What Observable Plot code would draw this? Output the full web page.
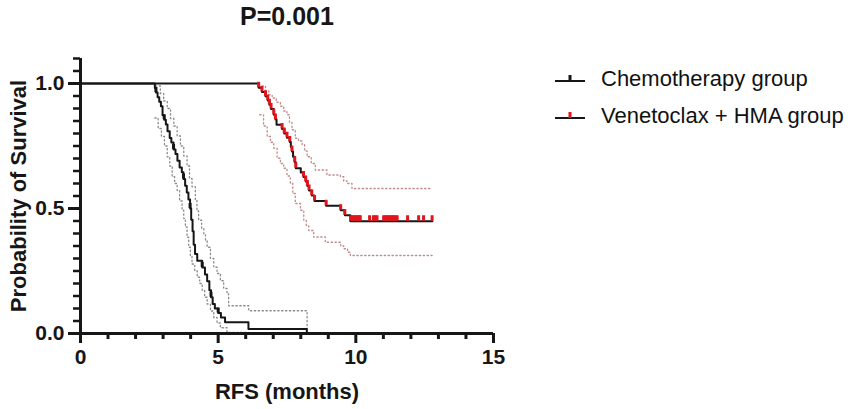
<!DOCTYPE html>
<html>
<head>
<meta charset="utf-8">
<script src="https://cdn.jsdelivr.net/npm/d3@7"></script>
<script src="https://cdn.jsdelivr.net/npm/@observablehq/plot@0.6"></script>
<style>
  body { margin: 0; background: white; }
  #chart { position: relative; width: 851px; height: 409px; font-family: "Liberation Sans", Arial, sans-serif; }
  #legend { position: absolute; left: 555px; top: 60px; font-size: 22px; color: #111; }
  #legend .row { display: flex; align-items: center; height: 37px; white-space: nowrap; }
  #legend svg { margin-right: 16px; }
</style>
</head>
<body>
<div id="chart"><div id="legend"></div></div>
<script>
const titleText = "P=0.001";
const xLabel = "RFS (months)";
const yLabel = "Probability of Survival";
const groups = ["Chemotherapy group", "Venetoclax + HMA group"];

const xMajorTicks = [0, 5, 10, 15];
const xMinorTicks = [1, 2, 3, 4, 6, 7, 8, 9, 11, 12, 13, 14];
const yMajorTicks = [0, 0.5, 1.0];
const yMinorTicks = [0.05, 0.1, 0.15, 0.2, 0.25, 0.3, 0.35, 0.4, 0.45, 0.55, 0.6, 0.65, 0.7, 0.75, 0.8, 0.85, 0.9, 0.95, 1.05, 1.1];

// Kaplan-Meier steps, chemotherapy group
const chemoT = [0, 2.70, 2.74, 2.80, 2.86, 2.92, 2.98, 3.04, 3.10, 3.16, 3.24, 3.30, 3.38, 3.45, 3.52, 3.60, 3.68, 3.74, 3.80, 3.86, 3.92, 3.98, 4.02, 4.07, 4.11, 4.16, 4.24, 4.42, 4.52, 4.60, 4.68, 4.74, 4.80, 4.88, 5.00, 5.10, 5.25, 6.10, 8.22];
const chemoS = [1, 0.982, 0.964, 0.945, 0.927, 0.909, 0.873, 0.855, 0.836, 0.809, 0.782, 0.764, 0.736, 0.718, 0.691, 0.664, 0.645, 0.618, 0.591, 0.564, 0.536, 0.500, 0.455, 0.409, 0.355, 0.318, 0.291, 0.264, 0.236, 0.209, 0.173, 0.145, 0.118, 0.100, 0.082, 0.064, 0.045, 0.018, 0];
const chemoUpT = [2.72, 2.90, 3.02, 3.15, 3.27, 3.39, 3.51, 3.63, 3.75, 3.87, 3.96, 4.05, 4.17, 4.23, 4.29, 4.40, 4.48, 4.54, 4.60, 4.72, 4.84, 4.96, 5.08, 5.20, 5.32, 5.38, 6.11, 8.23];
const chemoUpS = [0.99, 0.96, 0.93, 0.90, 0.86, 0.83, 0.79, 0.75, 0.71, 0.67, 0.62, 0.587, 0.533, 0.49, 0.453, 0.42, 0.399, 0.37, 0.345, 0.30, 0.265, 0.24, 0.211, 0.18, 0.158, 0.111, 0.091, 0.02];
const chemoLoT = [2.70, 2.82, 2.94, 3.05, 3.15, 3.24, 3.33, 3.42, 3.51, 3.60, 3.69, 3.75, 3.81, 3.87, 3.93, 3.99, 4.05, 4.15, 4.24, 4.33, 4.42, 4.51, 4.60, 4.72, 4.84, 4.96, 5.08, 5.32, 6.11];
const chemoLoS = [0.862, 0.82, 0.788, 0.75, 0.707, 0.67, 0.627, 0.60, 0.573, 0.53, 0.493, 0.46, 0.426, 0.385, 0.345, 0.31, 0.278, 0.25, 0.225, 0.20, 0.171, 0.145, 0.118, 0.09, 0.064, 0.042, 0.023, 0.004, 0.004];
const chemoCensT = [2.74, 3.04, 3.38, 3.74, 3.98, 4.42, 4.74, 5.00];
const chemoCensS = [0.964, 0.855, 0.736, 0.618, 0.500, 0.264, 0.145, 0.082];

// Kaplan-Meier steps, venetoclax + HMA group
const venT = [0, 6.47, 6.59, 6.72, 6.80, 6.86, 6.92, 7.02, 7.08, 7.12, 7.32, 7.40, 7.50, 7.60, 7.64, 7.68, 7.72, 7.78, 7.82, 8.00, 8.10, 8.18, 8.24, 8.30, 8.40, 8.50, 8.92, 9.45, 9.60, 9.80, 12.78];
const venS = [1, 0.983, 0.966, 0.949, 0.932, 0.915, 0.898, 0.875, 0.856, 0.835, 0.818, 0.800, 0.783, 0.766, 0.746, 0.728, 0.707, 0.685, 0.661, 0.644, 0.626, 0.608, 0.590, 0.572, 0.552, 0.530, 0.511, 0.493, 0.473, 0.449, 0.449];
const venUpT = [6.59, 6.72, 6.84, 6.96, 7.11, 7.26, 7.38, 7.50, 7.59, 7.68, 7.80, 7.92, 8.05, 8.14, 8.23, 8.38, 8.53, 8.95, 9.44, 9.56, 9.68, 9.86, 12.70];
const venUpS = [0.99, 0.97, 0.955, 0.942, 0.925, 0.909, 0.89, 0.875, 0.845, 0.815, 0.781, 0.77, 0.755, 0.73, 0.707, 0.68, 0.654, 0.634, 0.627, 0.61, 0.60, 0.58, 0.58];
const venLoT = [6.51, 6.65, 6.78, 6.90, 7.02, 7.14, 7.26, 7.38, 7.50, 7.62, 7.71, 7.80, 7.99, 8.11, 8.20, 8.29, 8.47, 8.89, 9.45, 9.56, 9.70, 9.80, 12.77];
const venLoS = [0.875, 0.83, 0.788, 0.765, 0.741, 0.701, 0.68, 0.661, 0.63, 0.60, 0.56, 0.52, 0.493, 0.453, 0.43, 0.412, 0.386, 0.365, 0.35, 0.339, 0.325, 0.312, 0.312];
const venCensT = [6.47, 6.59, 6.72, 6.80, 6.86, 6.92, 7.02, 7.08, 7.32, 7.40, 7.50, 7.60, 7.68, 7.78, 7.82, 8.10, 8.18, 8.24, 8.30, 8.40, 8.50, 8.92, 9.45, 9.60,
  9.82, 9.88, 9.94, 10.00, 10.06, 10.12, 10.16, 10.50, 10.64, 10.70, 10.77, 11.01, 11.07, 11.13, 11.19, 11.25, 11.31, 11.37, 11.43, 11.50, 11.88, 12.28, 12.46, 12.77];
const venCensS = [0.983, 0.966, 0.949, 0.932, 0.915, 0.898, 0.875, 0.856, 0.818, 0.800, 0.783, 0.766, 0.728, 0.685, 0.661, 0.626, 0.608, 0.590, 0.572, 0.552, 0.530, 0.511, 0.493, 0.473,
  0.449, 0.449, 0.449, 0.449, 0.449, 0.449, 0.449, 0.449, 0.449, 0.449, 0.449, 0.449, 0.449, 0.449, 0.449, 0.449, 0.449, 0.449, 0.449, 0.449, 0.449, 0.449, 0.449, 0.449];

const pts = (ts, ss) => ts.map((t, i) => ({t, s: ss[i]}));

const chemo = pts(chemoT, chemoS);
const chemoUp = pts(chemoUpT, chemoUpS);
const chemoLo = pts(chemoLoT, chemoLoS);
const chemoCens = pts(chemoCensT, chemoCensS);
const ven = pts(venT, venS);
const venUp = pts(venUpT, venUpS);
const venLo = pts(venLoT, venLoS);
const venCens = pts(venCensT, venCensS);

const LINE = "#161616";
const RED = "#e3141b";
const GREY_BAND = "#8a8a8a";
const RED_BAND = "#c08a8a";
const dotted = "1.3,2.6";

const chart = Plot.plot({
  width: 851,
  height: 409,
  marginLeft: 80,
  marginRight: 358,
  marginTop: 58,
  marginBottom: 76,
  x: { domain: [0, 15] },
  y: { domain: [0, 1.1] },
  style: { fontFamily: "'Liberation Sans', Arial, sans-serif", background: "white", color: LINE },
  marks: [
    // confidence bands
    Plot.line(chemoUp, { x: "t", y: "s", curve: "step-after", stroke: GREY_BAND, strokeWidth: 1.3, strokeDasharray: dotted }),
    Plot.line(chemoLo, { x: "t", y: "s", curve: "step-after", stroke: GREY_BAND, strokeWidth: 1.3, strokeDasharray: dotted }),
    Plot.line(venUp, { x: "t", y: "s", curve: "step-after", stroke: RED_BAND, strokeWidth: 1.3, strokeDasharray: dotted }),
    Plot.line(venLo, { x: "t", y: "s", curve: "step-after", stroke: RED_BAND, strokeWidth: 1.3, strokeDasharray: dotted }),
    // survival curves
    Plot.line(ven, { x: "t", y: "s", curve: "step-after", stroke: LINE, strokeWidth: 2 }),
    Plot.line(chemo, { x: "t", y: "s", curve: "step-after", stroke: LINE, strokeWidth: 2 }),
    // censor marks
    Plot.ruleX(chemoCens, { x: "t", y1: "s", y2: d => d.s + 0.02, stroke: LINE, strokeWidth: 3 }),
    Plot.ruleX(venCens, { x: "t", y1: "s", y2: d => d.s + 0.022, stroke: RED, strokeWidth: 3 }),
    // axes
    Plot.axisX({ ticks: xMinorTicks, tickSize: 6, strokeWidth: 3, tickFormat: () => "", label: null }),
    Plot.axisX({ ticks: xMajorTicks, tickSize: 10, strokeWidth: 3, tickPadding: 6, fontSize: 21, fontWeight: "bold", tickFormat: d => String(d), label: null }),
    Plot.axisY({ ticks: yMinorTicks, tickSize: 7, strokeWidth: 2.5, tickFormat: () => "", label: null }),
    Plot.axisY({ ticks: yMajorTicks, tickSize: 12, strokeWidth: 3, tickPadding: 4, fontSize: 21, fontWeight: "bold", tickFormat: d3.format(".1f"), label: null }),
    Plot.ruleX([0], { strokeWidth: 3, stroke: LINE }),
    Plot.ruleY([0], { strokeWidth: 3, stroke: LINE }),
    // titles
    Plot.text([titleText], { frameAnchor: "top", lineAnchor: "middle", dy: -42, fontSize: 25, fontWeight: "bold", fill: LINE }),
    Plot.text([yLabel], { frameAnchor: "left", textAnchor: "middle", lineAnchor: "middle", dx: -62, rotate: -90, fontSize: 22, fontWeight: "bold", fill: LINE }),
    Plot.text([xLabel], { frameAnchor: "bottom", lineAnchor: "middle", dy: 58, fontSize: 22, fontWeight: "bold", fill: LINE })
  ]
});

const holder = document.getElementById("chart");
holder.insertBefore(chart, holder.firstChild);

// legend
const legend = d3.select("#legend");
const tickColors = [LINE, RED];
groups.forEach((g, i) => {
  const row = legend.append("div").attr("class", "row");
  const sw = row.append("svg").attr("width", 30).attr("height", 16);
  sw.append("line").attr("x1", 0).attr("x2", 30).attr("y1", 10).attr("y2", 10).attr("stroke", LINE).attr("stroke-width", 2);
  sw.append("line").attr("x1", 15).attr("x2", 15).attr("y1", 10).attr("y2", 4).attr("stroke", tickColors[i]).attr("stroke-width", 3);
  row.append("span").text(g);
});
</script>
</body>
</html>
